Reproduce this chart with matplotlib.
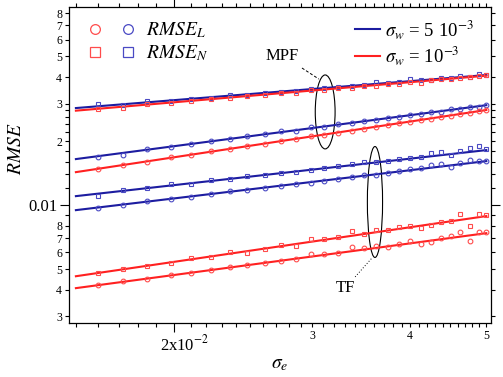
import numpy as np
import matplotlib.pyplot as plt
from matplotlib.lines import Line2D
from matplotlib.legend_handler import HandlerTuple
from matplotlib.patches import Ellipse
from matplotlib.ticker import FixedLocator, FixedFormatter
from matplotlib.transforms import ScaledTranslation

plt.rcParams['font.family'] = ['Liberation Serif', 'DejaVu Serif']
plt.rcParams['mathtext.fontset'] = 'stix'

# sigma_e values of the simulation points
sigma_e = [0.016, 0.0172, 0.0185, 0.0198, 0.021, 0.0223, 0.0236, 0.0248, 0.0261, 0.0274,
           0.0286, 0.0299, 0.0311, 0.0324, 0.0337, 0.0349, 0.0362, 0.0375, 0.0387, 0.04,
           0.0413, 0.0425, 0.0438, 0.0451, 0.0463, 0.0476, 0.0489, 0.05]

# MPF, RMSE_N (squares)
mpf_n_5 = [0.0298, 0.0297, 0.0310, 0.0309, 0.0317, 0.0320, 0.0330, 0.0331, 0.0337, 0.0342,
           0.0345, 0.0352, 0.0354, 0.0359, 0.0365, 0.0367, 0.0380, 0.0374, 0.0380, 0.0390,
           0.0387, 0.0389, 0.0395, 0.0396, 0.0403, 0.0401, 0.0412, 0.0409]
mpf_n_1 = [0.0284, 0.0286, 0.0298, 0.0302, 0.0308, 0.0316, 0.0319, 0.0327, 0.0330, 0.0337,
           0.0338, 0.0348, 0.0348, 0.0356, 0.0357, 0.0365, 0.0364, 0.0372, 0.0370, 0.0380,
           0.0376, 0.0388, 0.0390, 0.0393, 0.0398, 0.0399, 0.0405, 0.0407]
# MPF, RMSE_L (circles)
mpf_l_5 = [0.0168, 0.0172, 0.0184, 0.0188, 0.0193, 0.0201, 0.0204, 0.0211, 0.0215, 0.0222,
           0.0224, 0.0232, 0.0234, 0.0240, 0.0243, 0.0249, 0.0251, 0.0258, 0.0259, 0.0266,
           0.0268, 0.0274, 0.0275, 0.0282, 0.0283, 0.0289, 0.0290, 0.0297]
mpf_l_1 = [0.0148, 0.0155, 0.0160, 0.0168, 0.0172, 0.0179, 0.0183, 0.0190, 0.0194, 0.0201,
           0.0204, 0.0211, 0.0213, 0.0218, 0.0224, 0.0229, 0.0232, 0.0238, 0.0242, 0.0245,
           0.0252, 0.0254, 0.0261, 0.0263, 0.0268, 0.0271, 0.0276, 0.0280]
# TF, RMSE_N (squares)
tf_n_5 = [0.0110, 0.0118, 0.0121, 0.0125, 0.0126, 0.0131, 0.0132, 0.0137, 0.0138, 0.0142,
          0.0143, 0.0146, 0.0149, 0.0153, 0.0156, 0.0159, 0.0159, 0.0162, 0.0165, 0.0166,
          0.0168, 0.0176, 0.0178, 0.0172, 0.0179, 0.0185, 0.0189, 0.0183]
tf_n_1 = [0.00482, 0.00503, 0.00517, 0.00535, 0.00562, 0.00570, 0.00605, 0.00598, 0.00625, 0.00650,
          0.00645, 0.00690, 0.00690, 0.00705, 0.00757, 0.00728, 0.00763, 0.00763, 0.00791, 0.00800,
          0.00780, 0.00810, 0.00832, 0.00840, 0.00905, 0.00797, 0.00905, 0.00895]
# TF, RMSE_L (circles)
tf_l_5 = [0.0097, 0.0100, 0.0104, 0.0107, 0.0109, 0.0113, 0.0116, 0.0118, 0.0121, 0.0123,
          0.0126, 0.0127, 0.0130, 0.0132, 0.0136, 0.0138, 0.0138, 0.0142, 0.0145, 0.0148,
          0.0149, 0.0154, 0.0156, 0.0151, 0.0158, 0.0163, 0.0161, 0.0161]
tf_l_1 = [0.00420, 0.00440, 0.00451, 0.00467, 0.00481, 0.00495, 0.00509, 0.00522, 0.00535, 0.00548,
          0.00560, 0.00588, 0.00592, 0.00597, 0.00633, 0.00626, 0.00641, 0.00636, 0.00656, 0.00677,
          0.00656, 0.00670, 0.00700, 0.00715, 0.00746, 0.00677, 0.00746, 0.00746]

# fitted lines (values at both ends)
fit_x = [0.015, 0.05]
fit_mpf_n_5 = [0.0286, 0.0409]
fit_mpf_n_1 = [0.0278, 0.0406]
fit_mpf_l_5 = [0.01646, 0.0295]
fit_mpf_l_1 = [0.01429, 0.0280]
fit_tf_n_5 = [0.01102, 0.01814]
fit_tf_l_5 = [0.00947, 0.0161]
fit_tf_n_1 = [0.00463, 0.00888]
fit_tf_l_1 = [0.00407, 0.00738]

BLUE = '#1c1ca0'
RED = '#ff2020'
MBLUE = '#4a4ac4'
MRED = '#ff4c4c'

fig = plt.figure(figsize=(5.03, 3.77), dpi=100)
ax = fig.add_axes([0.1372, 0.1432, 0.8390, 0.8382])
ax.set_xscale('log')
ax.set_yscale('log')

series = [
    (mpf_n_5, fit_mpf_n_5, 's', BLUE, MBLUE),
    (mpf_n_1, fit_mpf_n_1, 's', RED, MRED),
    (mpf_l_5, fit_mpf_l_5, 'o', BLUE, MBLUE),
    (mpf_l_1, fit_mpf_l_1, 'o', RED, MRED),
    (tf_n_5, fit_tf_n_5, 's', BLUE, MBLUE),
    (tf_l_5, fit_tf_l_5, 'o', BLUE, MBLUE),
    (tf_n_1, fit_tf_n_1, 's', RED, MRED),
    (tf_l_1, fit_tf_l_1, 'o', RED, MRED),
]
for vals, fit, mk, lc, mc in series:
    ax.plot(sigma_e, vals, mk, ms=3.4, mfc='none', mec=mc, mew=0.8, zorder=3)
    ax.plot(fit_x, fit, '-', color=lc, lw=1.5, zorder=2)

ax.set_xlim(0.0147, 0.0507)
ax.set_ylim(0.00279, 0.0854)

# ticks
ax.xaxis.set_major_locator(FixedLocator([0.02]))
ax.xaxis.set_major_formatter(FixedFormatter(['2x10$^{-2}$']))
xmin = [v / 1000 for v in range(15, 51) if v != 20]
ax.xaxis.set_minor_locator(FixedLocator(xmin))
ax.xaxis.set_minor_formatter(FixedFormatter(
    ['3' if v == 0.03 else '4' if v == 0.04 else '5' if v == 0.05 else '' for v in xmin]))

ax.yaxis.set_major_locator(FixedLocator([0.01]))
ax.yaxis.set_major_formatter(FixedFormatter(['0.01']))
ymin = [0.003, 0.004, 0.005, 0.006, 0.007, 0.008, 0.009, 0.012, 0.014, 0.016, 0.018,
        0.02, 0.022, 0.024, 0.026, 0.028, 0.03, 0.04, 0.05, 0.06, 0.07, 0.08]
ylab = ['3', '4', '5', '6', '7', '8', '', '', '', '', '', '2', '', '', '', '', '3', '4', '5', '6', '7', '8']
ax.yaxis.set_minor_locator(FixedLocator(ymin))
ax.yaxis.set_minor_formatter(FixedFormatter(ylab))

ax.tick_params(which='both', direction='out', top=True, right=True, width=0.8)
ax.tick_params(which='major', length=6.5, labelsize=12, pad=2)
ax.tick_params(which='minor', length=3, labelsize=8.5, pad=2)
for s in ax.spines.values():
    s.set_linewidth(0.9)
fig.canvas.draw()
for lab in ax.xaxis.get_majorticklabels():
    lab.set_transform(lab.get_transform() + ScaledTranslation(0.11, 0, fig.dpi_scale_trans))

ax.set_xlabel(r'$\sigma_e$', fontsize=14)
ax.xaxis.set_label_coords(0.5, -0.105)
ax.set_ylabel(r'$RMSE$', fontsize=14)
ax.yaxis.set_label_coords(-0.105, 0.55)

# legends
h1 = (Line2D([], [], marker='o', ls='none', ms=7, mfc='none', mec=MRED, mew=0.9),
      Line2D([], [], marker='o', ls='none', ms=7, mfc='none', mec=MBLUE, mew=0.9))
h2 = (Line2D([], [], marker='s', ls='none', ms=7, mfc='none', mec=MRED, mew=0.9),
      Line2D([], [], marker='s', ls='none', ms=7, mfc='none', mec=MBLUE, mew=0.9))
leg1 = ax.legend([h1, h2], ['$RMSE_L$', '$RMSE_N$'], loc='upper left',
                 bbox_to_anchor=(0.0, 1.012), frameon=False, fontsize=14,
                 handler_map={tuple: HandlerTuple(ndivide=None, pad=0.8)},
                 handlelength=2.6, labelspacing=0.15, handletextpad=0.45)
ax.add_artist(leg1)
lh = [Line2D([], [], color=BLUE, lw=1.5), Line2D([], [], color=RED, lw=1.5)]
ax.legend(lh, [r'$\sigma_w$ = 5 10$^{-3}$', r'$\sigma_w$ = 10$^{-3}$'], loc='upper right',
          bbox_to_anchor=(1.0, 1.02), frameon=False, fontsize=13.5,
          handlelength=1.3, labelspacing=0.2, handletextpad=0.3)

# method groups
ax.add_patch(Ellipse((0.607, 0.668), 0.047, 0.234, transform=ax.transAxes,
                     fill=False, ec='black', lw=0.8))
ax.add_patch(Ellipse((0.725, 0.383), 0.036, 0.351, transform=ax.transAxes,
                     fill=False, ec='black', lw=0.8))
ax.text(0.505, 0.845, 'MPF', transform=ax.transAxes, ha='center', va='center', fontsize=12)
ax.plot([0.552, 0.592], [0.807, 0.772], transform=ax.transAxes, color='black',
        lw=0.7, ls=(0, (3, 2)))
ax.text(0.654, 0.111, 'TF', transform=ax.transAxes, ha='center', va='center', fontsize=12)
ax.plot([0.678, 0.718], [0.146, 0.206], transform=ax.transAxes, color='black',
        lw=0.7, ls=(0, (1, 2)))

fig.savefig('out.png', dpi=100)
